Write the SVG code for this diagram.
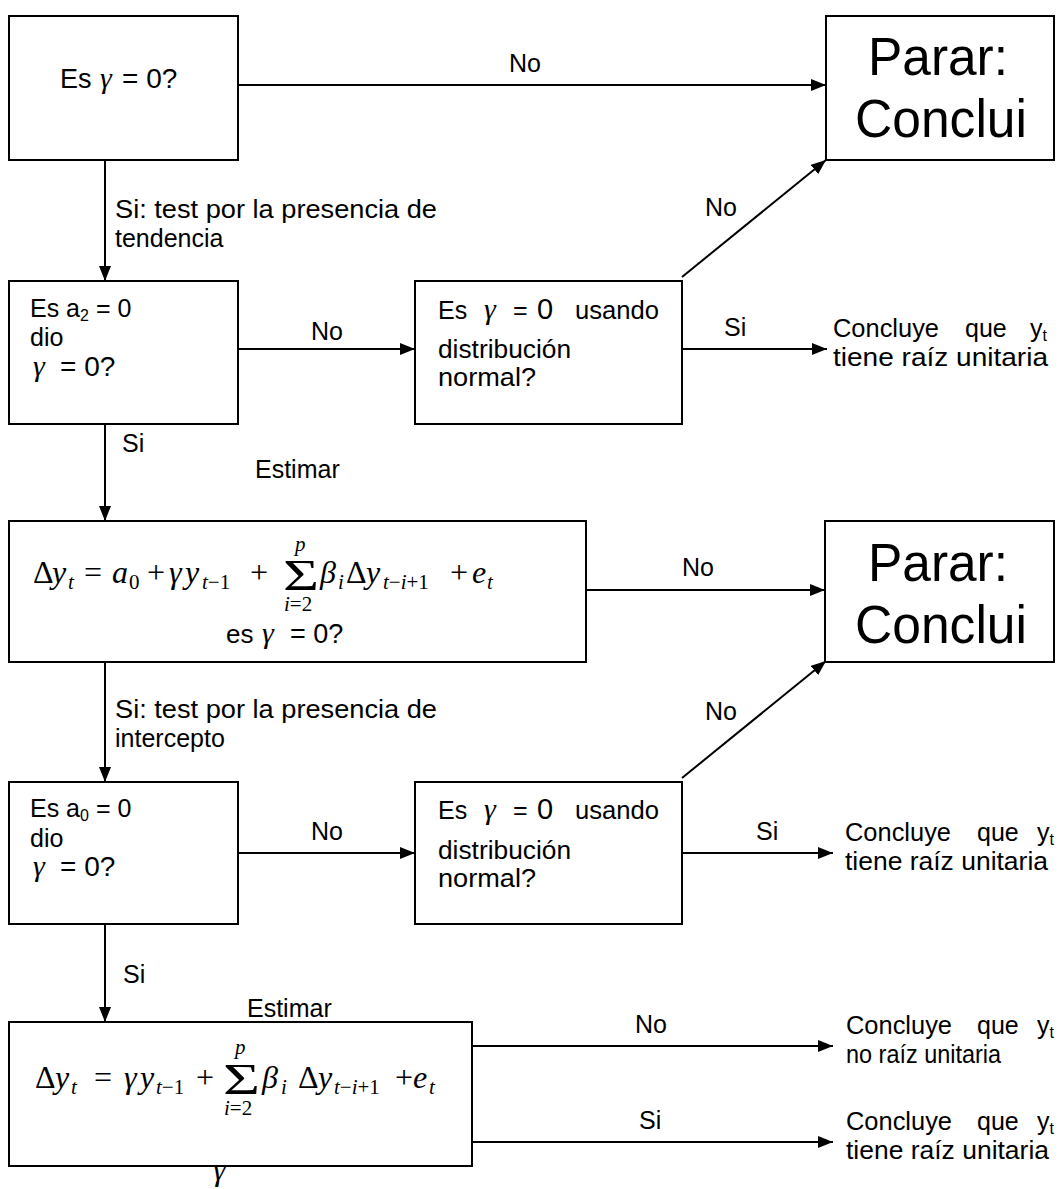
<svg xmlns="http://www.w3.org/2000/svg" width="1063" height="1189" viewBox="0 0 1063 1189">
<defs>
<style>
.box{fill:#fff;stroke:#000;stroke-width:2}
.ln{fill:none;stroke:#000;stroke-width:2}
text{fill:#000}
.s{font-family:"Liberation Sans",Arial,sans-serif;font-size:25px}
.big{font-family:"Liberation Sans",Arial,sans-serif;font-size:54px}
.m{font-family:"Liberation Serif","Times New Roman",serif;font-size:32px}
.mi{font-family:"Liberation Serif","Times New Roman",serif;font-size:32px;font-style:italic}
.ms{font-family:"Liberation Serif","Times New Roman",serif;font-size:21px}
.msi{font-family:"Liberation Serif","Times New Roman",serif;font-size:21px;font-style:italic}
.g{font-family:"Liberation Serif","Times New Roman",serif;font-size:30px;font-style:italic}
</style>
<marker id="ah" markerUnits="userSpaceOnUse" markerWidth="15" markerHeight="12" refX="15" refY="6" orient="auto">
<path d="M0,0 L15,6 L0,12 z" fill="#000"/>
</marker>
</defs>
<rect width="1063" height="1189" fill="#fff"/>

<g id="connectors">
<path class="ln" d="M238,85 H826" marker-end="url(#ah)"/>
<path class="ln" d="M105,160 V281" marker-end="url(#ah)"/>
<path class="ln" d="M238,349 H415" marker-end="url(#ah)"/>
<path class="ln" d="M682,349 H827" marker-end="url(#ah)"/>
<path class="ln" d="M682,277 L826,160" marker-end="url(#ah)"/>
<path class="ln" d="M105,424 V521" marker-end="url(#ah)"/>
<path class="ln" d="M586,590 H825" marker-end="url(#ah)"/>
<path class="ln" d="M105,662 V782" marker-end="url(#ah)"/>
<path class="ln" d="M238,853 H415" marker-end="url(#ah)"/>
<path class="ln" d="M682,778 L826,661" marker-end="url(#ah)"/>
<path class="ln" d="M682,853 H833" marker-end="url(#ah)"/>
<path class="ln" d="M105,924 V1022" marker-end="url(#ah)"/>
<path class="ln" d="M466,1046 H833" marker-end="url(#ah)"/>
<path class="ln" d="M466,1142 H833" marker-end="url(#ah)"/>
<text class="s" x="509" y="72">No</text>
<text class="s" x="115" y="218" textLength="322" lengthAdjust="spacingAndGlyphs">Si: test por la presencia de</text>
<text class="s" x="115" y="247">tendencia</text>
<text class="s" x="311" y="340">No</text>
<text class="s" x="724" y="336">Si</text>
<text class="s" x="705" y="216">No</text>
<text class="s" x="122" y="452">Si</text>
<text class="s" x="682" y="576">No</text>
<text class="s" x="115" y="718" textLength="322" lengthAdjust="spacingAndGlyphs">Si: test por la presencia de</text>
<text class="s" x="115" y="747">intercepto</text>
<text class="s" x="705" y="720">No</text>
<text class="s" x="311" y="840">No</text>
<text class="s" x="756" y="840">Si</text>
<text class="s" x="123" y="983">Si</text>
<text class="s" x="635" y="1033">No</text>
<text class="s" x="639" y="1129">Si</text>
</g>

<g id="n1">
<rect class="box" x="9" y="16" width="229" height="144"/>
<text class="s" x="60" y="88" style="font-size:27px">Es</text>
<text class="g" x="100" y="88">γ</text>
<text class="s" x="122" y="88" style="font-size:28px">= 0?</text>
</g>

<g id="parar1">
<rect class="box" x="826" y="16" width="228" height="144"/>
<text class="big" x="868" y="75" textLength="140" lengthAdjust="spacingAndGlyphs">Parar:</text>
<text class="big" x="855" y="137" textLength="172" lengthAdjust="spacingAndGlyphs">Conclui</text>
</g>

<g id="n2">
<rect class="box" x="9" y="281" width="229" height="143"/>
<text class="s" x="30" y="317">Es a<tspan style="font-size:16px" dy="4">2</tspan><tspan dy="-4"> = 0</tspan></text>
<text class="s" x="30" y="346">dio</text>
<text class="g" x="33" y="376">γ</text>
<text class="s" x="60" y="376" style="font-size:28px">= 0?</text>
</g>

<g id="n3">
<rect class="box" x="415" y="281" width="267" height="143"/>
<text class="s" x="438" y="319">Es</text>
<text class="g" x="484" y="319">γ</text>
<text class="s" x="513" y="319">=</text>
<text class="s" x="537" y="319" style="font-size:29px">0</text>
<text class="s" x="575" y="319" textLength="84" lengthAdjust="spacingAndGlyphs">usando</text>
<text class="s" x="438" y="358" textLength="133" lengthAdjust="spacingAndGlyphs">distribución</text>
<text class="s" x="438" y="386" textLength="98" lengthAdjust="spacingAndGlyphs">normal?</text>
</g>

<g id="c1">
<text class="s" x="833" y="337" textLength="106" lengthAdjust="spacingAndGlyphs">Concluye</text>
<text class="s" x="965" y="337">que</text>
<text class="s" x="1030" y="337">y<tspan style="font-size:16px" dy="4">t</tspan></text>
<text class="s" x="833" y="366" textLength="215" lengthAdjust="spacingAndGlyphs">tiene raíz unitaria</text>
</g>

<text class="s" x="255" y="478">Estimar</text>

<g id="n4">
<rect class="box" x="9" y="521" width="577" height="141"/>
<text class="m" x="33" y="583">Δ</text>
<text class="mi" x="52" y="583">y</text>
<text class="msi" x="68" y="589">t</text>
<text class="m" x="84" y="583">=</text>
<text class="mi" x="112" y="583">a</text>
<text class="ms" x="129" y="589">0</text>
<text class="m" x="147" y="583">+</text>
<text class="mi" x="169" y="583">γ</text>
<text class="mi" x="185" y="583">y</text>
<text class="msi" x="202" y="589">t<tspan class="ms" style="font-style:normal">−1</tspan></text>
<text class="m" x="250" y="583">+</text>
<text class="m" x="283" y="590" style="font-size:44px" textLength="36" lengthAdjust="spacingAndGlyphs">Σ</text>
<text class="msi" x="295" y="551">p</text>
<text class="msi" x="284" y="611">i<tspan class="ms" style="font-style:normal">=2</tspan></text>
<text class="mi" x="320" y="583">β</text>
<text class="msi" x="338" y="589">i</text>
<text class="m" x="346" y="583">Δ</text>
<text class="mi" x="366" y="583">y</text>
<text class="msi" x="383" y="589">t<tspan class="ms" style="font-style:normal">−</tspan>i<tspan class="ms" style="font-style:normal">+1</tspan></text>
<text class="m" x="450" y="583">+</text>
<text class="mi" x="472" y="583">e</text>
<text class="msi" x="487" y="589">t</text>
<text class="s" x="226" y="643" style="font-size:26px">es</text>
<text class="g" x="262" y="643">γ</text>
<text class="s" x="290" y="643" style="font-size:27px">= 0?</text>
</g>

<g id="parar2">
<rect class="box" x="825" y="521" width="229" height="141"/>
<text class="big" x="868" y="581" textLength="140" lengthAdjust="spacingAndGlyphs">Parar:</text>
<text class="big" x="855" y="643" textLength="172" lengthAdjust="spacingAndGlyphs">Conclui</text>
</g>

<g id="n5">
<rect class="box" x="9" y="782" width="229" height="142"/>
<text class="s" x="30" y="817">Es a<tspan style="font-size:16px" dy="4">0</tspan><tspan dy="-4"> = 0</tspan></text>
<text class="s" x="30" y="847">dio</text>
<text class="g" x="33" y="876">γ</text>
<text class="s" x="60" y="876" style="font-size:28px">= 0?</text>
</g>

<g id="n6">
<rect class="box" x="415" y="782" width="267" height="142"/>
<text class="s" x="438" y="819">Es</text>
<text class="g" x="484" y="819">γ</text>
<text class="s" x="513" y="819">=</text>
<text class="s" x="537" y="819" style="font-size:29px">0</text>
<text class="s" x="575" y="819" textLength="84" lengthAdjust="spacingAndGlyphs">usando</text>
<text class="s" x="438" y="859" textLength="133" lengthAdjust="spacingAndGlyphs">distribución</text>
<text class="s" x="438" y="887" textLength="98" lengthAdjust="spacingAndGlyphs">normal?</text>
</g>

<g id="c2">
<text class="s" x="845" y="841" textLength="106" lengthAdjust="spacingAndGlyphs">Concluye</text>
<text class="s" x="977" y="841">que</text>
<text class="s" x="1037" y="841">y<tspan style="font-size:16px" dy="4">t</tspan></text>
<text class="s" x="845" y="870" textLength="203" lengthAdjust="spacingAndGlyphs">tiene raíz unitaria</text>
</g>

<text class="s" x="247" y="1017">Estimar</text>

<g id="n7">
<rect class="box" x="9" y="1022" width="463" height="144"/>
<text class="m" x="35" y="1088">Δ</text>
<text class="mi" x="55" y="1088">y</text>
<text class="msi" x="71" y="1094">t</text>
<text class="m" x="94" y="1088">=</text>
<text class="mi" x="124" y="1088">γ</text>
<text class="mi" x="140" y="1088">y</text>
<text class="msi" x="156" y="1094">t<tspan class="ms" style="font-style:normal">−1</tspan></text>
<text class="m" x="196" y="1088">+</text>
<text class="m" x="223" y="1094" style="font-size:44px" textLength="37" lengthAdjust="spacingAndGlyphs">Σ</text>
<text class="msi" x="235" y="1054">p</text>
<text class="msi" x="224" y="1115">i<tspan class="ms" style="font-style:normal">=2</tspan></text>
<text class="mi" x="262" y="1088">β</text>
<text class="msi" x="281" y="1094">i</text>
<text class="m" x="298" y="1088">Δ</text>
<text class="mi" x="318" y="1088">y</text>
<text class="msi" x="334" y="1094">t<tspan class="ms" style="font-style:normal">−</tspan>i<tspan class="ms" style="font-style:normal">+1</tspan></text>
<text class="m" x="395" y="1088">+</text>
<text class="mi" x="413" y="1088">e</text>
<text class="msi" x="429" y="1094">t</text>
</g>

<text class="mi" x="213" y="1180">γ</text>

<g id="c3">
<text class="s" x="846" y="1034" textLength="106" lengthAdjust="spacingAndGlyphs">Concluye</text>
<text class="s" x="977" y="1034">que</text>
<text class="s" x="1037" y="1034">y<tspan style="font-size:16px" dy="4">t</tspan></text>
<text class="s" x="846" y="1063" textLength="155" lengthAdjust="spacingAndGlyphs">no raíz unitaria</text>
</g>

<g id="c4">
<text class="s" x="846" y="1130" textLength="106" lengthAdjust="spacingAndGlyphs">Concluye</text>
<text class="s" x="977" y="1130">que</text>
<text class="s" x="1037" y="1130">y<tspan style="font-size:16px" dy="4">t</tspan></text>
<text class="s" x="846" y="1159" textLength="203" lengthAdjust="spacingAndGlyphs">tiene raíz unitaria</text>
</g>
</svg>
